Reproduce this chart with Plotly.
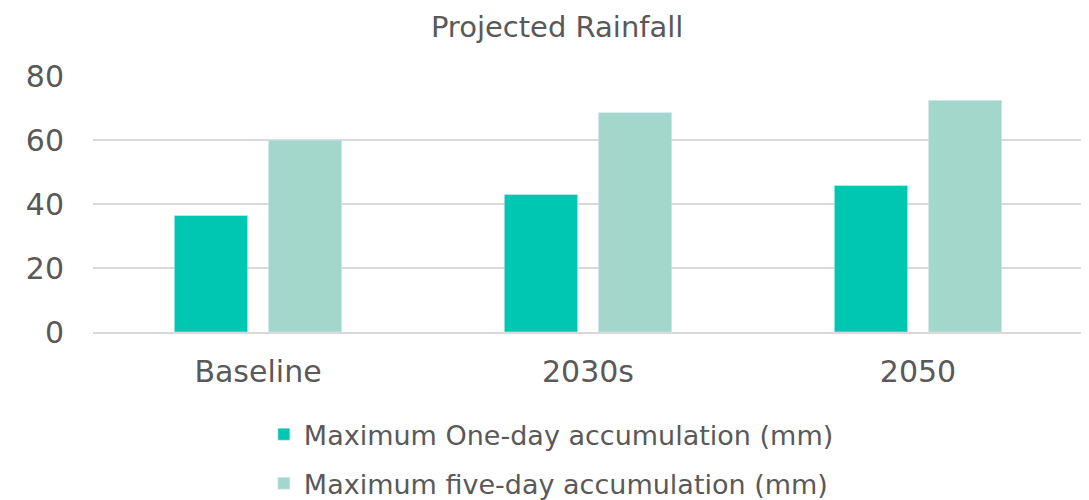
import plotly.graph_objects as go

# ── Data ──────────────────────────────────────────────────────────────────────
categories = ["Baseline", "2030s", "2050"]
one_day = [36.4, 43.0, 45.8]
five_day = [60.0, 68.6, 72.4]
series_names = [
    "Maximum One-day accumulation (mm)",
    "Maximum five-day accumulation (mm)",
]

COLORS = {
    "one_day": "#00C7B1",
    "five_day": "#A3D7CB",
    "text": "#595959",
    "grid": "#D9D9D9",
}
FONT = "DejaVu Sans, sans-serif"

fig = go.Figure()
fig.add_trace(go.Bar(x=categories, y=one_day, name=series_names[0],
                     legendgroup="a", marker=dict(color=COLORS["one_day"])))
fig.add_trace(go.Bar(x=categories, y=five_day, name=series_names[1],
                     legendgroup="b", marker=dict(color=COLORS["five_day"])))

# the page body adds an 8px margin, so the figure is 8px smaller than the window
fig.update_layout(
    width=1081,
    height=492,
    barmode="group",
    bargap=0.43,
    bargroupgap=0.22,
    paper_bgcolor="white",
    plot_bgcolor="white",
    font=dict(family=FONT, color=COLORS["text"], size=30),
    title=dict(text="Projected Rainfall", x=0.508, xanchor="center",
               y=0.962, yanchor="middle", yref="container",
               font=dict(size=29, color=COLORS["text"])),
    margin=dict(l=85, r=6, t=68, b=168, autoexpand=False),
    xaxis=dict(showline=True, linecolor=COLORS["grid"], linewidth=2,
               tickfont=dict(size=30), ticks="", ticklabelstandoff=12),
    yaxis=dict(range=[0, 80], dtick=20, gridcolor=COLORS["grid"], gridwidth=2,
               zeroline=False, tickfont=dict(size=30), ticks="",
               ticklabelstandoff=28),
    legend=dict(orientation="v", x=0.463, xanchor="center", y=0.083, yanchor="middle",
                yref="container",
                font=dict(size=27, color=COLORS["text"]), itemwidth=30,
                tracegroupgap=11),
    showlegend=True,
)

fig.write_html("out.html")
